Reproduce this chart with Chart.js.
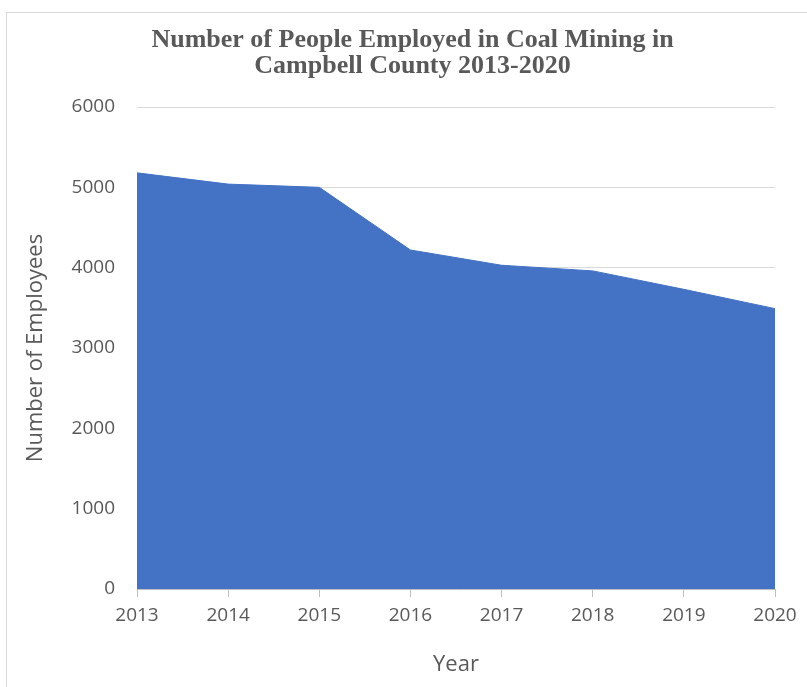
<!DOCTYPE html>
<html>
<head>
<meta charset="utf-8">
<script src="https://cdn.jsdelivr.net/npm/chart.js@4/dist/chart.umd.min.js"></script>
<style>
  html, body { margin: 0; padding: 0; background: #fff; }
  #wrap { position: relative; width: 807px; height: 687px; }
  #frame {
    position: absolute; left: 6px; top: 12px; width: 820px; height: 700px;
    border-left: 1px solid #d9d9d9; border-top: 1px solid #d9d9d9;
  }
  #chart { position: absolute; left: 0; top: 0; }
</style>
</head>
<body>
<div id="wrap">
  <div id="frame"></div>
  <canvas id="chart" width="807" height="687"></canvas>
</div>
<script>
"use strict";

// years on the x axis
const years = ["2013", "2014", "2015", "2016", "2017", "2018", "2019", "2020"];
// number of employees
const employees = [5180, 5040, 5000, 4220, 4030, 3960, 3730, 3490];
// y axis ticks
const yTicks = [0, 1000, 2000, 3000, 4000, 5000, 6000];

const chartTitle = ["Number of People Employed in Coal Mining in", "Campbell County 2013-2020"];
const xTitle = "Year";
const yTitle = "Number of Employees";

const grey = "#595959";
const sans = "'Open Sans', sans-serif";

// the title in the picture sits a bit right of the canvas centre
const shiftTitle = {
  id: "shiftTitle",
  afterLayout(chart) {
    const block = chart.titleBlock;
    if (block) {
      block.left += 25;
      block.right += 25;
    }
  },
};

new Chart(document.querySelector("#chart"), {
  type: "line",
  data: {
    labels: years,
    datasets: [
      {
        label: "Employees",
        data: employees,
        fill: "origin",
        backgroundColor: "#4472c4",
        borderColor: "#4472c4",
        borderWidth: 1,
        pointRadius: 0,
        tension: 0,
      },
    ],
  },
  options: {
    responsive: false,
    animation: false,
    layout: { padding: { left: 0, right: 32, top: 0, bottom: 0 } },
    plugins: {
      legend: { display: false },
      tooltip: { enabled: false },
      title: {
        display: true,
        text: chartTitle,
        color: grey,
        font: { family: "'Liberation Serif', serif", size: 26, weight: "bold", lineHeight: 1.0 },
        padding: { top: 27, bottom: 28 },
      },
    },
    scales: {
      x: {
        offset: false,
        grid: {
          drawOnChartArea: false,
          drawTicks: true,
          tickLength: 8,
          color: "#bfbfbf",
        },
        border: { display: true, color: "#bfbfbf" },
        ticks: {
          color: grey,
          font: { family: sans, size: 19 },
          padding: 7,
          maxRotation: 0,
        },
        title: {
          display: true,
          text: xTitle,
          color: grey,
          font: { family: sans, size: 22 },
          padding: { top: 0, bottom: 9 },
        },
        afterFit: (scale) => {
          scale.height = 98;
        },
      },
      y: {
        min: 0,
        max: 6000,
        afterBuildTicks: (scale) => {
          scale.ticks = yTicks.map((v) => ({ value: v }));
        },
        grid: { color: "#d9d9d9", drawTicks: false },
        border: { display: false },
        ticks: {
          color: grey,
          font: { family: sans, size: 19 },
          padding: 22,
          callback: (value) => String(value),
        },
        title: {
          display: true,
          text: yTitle,
          color: grey,
          font: { family: sans, size: 22 },
          padding: { top: 23, bottom: 0 },
        },
        afterFit: (scale) => {
          scale.width = 137;
        },
      },
    },
  },
  plugins: [shiftTitle],
});
</script>
</body>
</html>
